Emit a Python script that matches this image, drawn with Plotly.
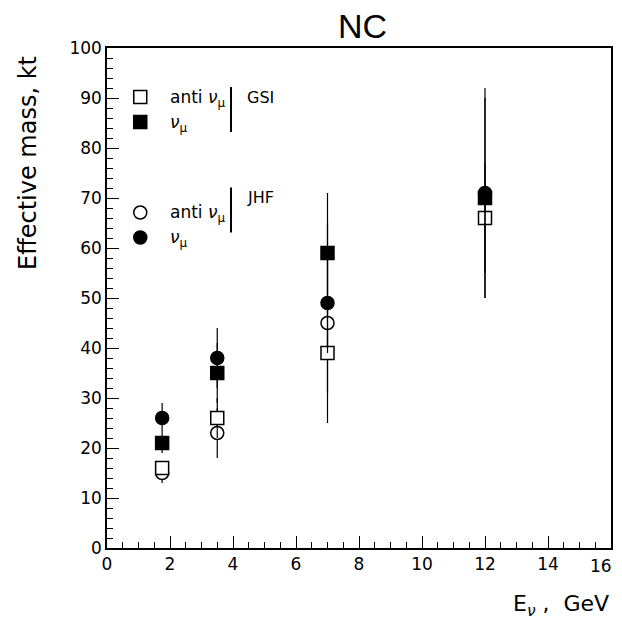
import plotly.graph_objects as go

# ---- data ----
energy = [1.75, 3.5, 7, 12]
gsi_anti = [16, 26, 39, 66]
gsi_anti_err = [1, 4, 8, 11]
gsi_nu = [21, 35, 59, 70]
gsi_nu_err = [2, 6, 12, 20]
jhf_anti_energy = [1.75, 3.5, 7]
jhf_anti = [15, 23, 45]
jhf_anti_err = [2, 5, 20]
jhf_nu = [26, 38, 49, 71]
jhf_nu_err = [3, 6, 10, 21]

x_ticks = [0, 2, 4, 6, 8, 10, 12, 14, 16]
y_ticks = [0, 10, 20, 30, 40, 50, 60, 70, 80, 90, 100]

FONT = "DejaVu Sans"
TFONT = "Liberation Sans"
MS = 13

fig = go.Figure()


def add_series(x, y, err, symbol, filled):
    fig.add_trace(go.Scatter(
        x=x, y=y, mode="markers",
        marker=dict(symbol=symbol, size=MS,
                    color="black" if filled else "white",
                    line=dict(color="black", width=1.5)),
        error_y=dict(type="data", array=err, visible=True,
                     color="black", thickness=1.2, width=0),
        showlegend=False))


add_series(jhf_anti_energy, jhf_anti, jhf_anti_err, "circle", False)
add_series(energy, gsi_anti, gsi_anti_err, "square", False)
add_series(energy, jhf_nu, jhf_nu_err, "circle", True)
add_series(energy, gsi_nu, gsi_nu_err, "square", True)

# ---- hand-drawn legend on an overlay axis (0..1 paper-like) ----
leg_x = [0.066, 0.066, 0.066, 0.066]
leg_y = [0.902, 0.852, 0.671, 0.621]
fig.add_trace(go.Scatter(
    x=leg_x, y=leg_y, mode="markers", xaxis="x2", yaxis="y2",
    marker=dict(symbol=["square", "square", "circle", "circle"], size=MS,
                color=["white", "black", "white", "black"],
                line=dict(color="black", width=1.5)),
    showlegend=False, hoverinfo="skip"))

legend_labels = ["anti <i>ν</i><sub>μ</sub>", "<i>ν</i><sub>μ</sub>",
                 "anti <i>ν</i><sub>μ</sub>", "<i>ν</i><sub>μ</sub>"]
for lx, ly, lab in zip(leg_x, leg_y, legend_labels):
    fig.add_annotation(x=lx, y=ly, xref="x2", yref="y2", text=lab,
                       showarrow=False, xanchor="left", yanchor="middle",
                       xshift=28, yshift=-1,
                       font=dict(family=FONT, size=17, color="black"))

for top, bot, ty, name in [(0.922, 0.832, 0.902, "GSI"), (0.721, 0.631, 0.701, "JHF")]:
    fig.add_shape(type="line", xref="x2", yref="y2", x0=0.246, x1=0.246,
                  y0=bot, y1=top, line=dict(color="black", width=2))
    fig.add_annotation(x=0.246, y=ty, xref="x2", yref="y2", text=name,
                       showarrow=False, xanchor="left", yanchor="middle",
                       xshift=14,
                       font=dict(family=FONT, size=16, color="black"))

axis_common = dict(showgrid=False, zeroline=False, showline=True, mirror=True,
                   linecolor="black", linewidth=1.5, ticks="inside",
                   tickcolor="black", tickwidth=1.2, ticklen=12,
                   tickfont=dict(family=FONT, size=17, color="black"))

# last x tick label is placed by hand so it is not clipped at the page edge
x_ticktext = [str(v) for v in x_ticks]
x_ticktext[-1] = ""

fig.update_layout(
    width=614, height=615,
    margin=dict(l=99, r=11, t=40, b=75),
    paper_bgcolor="white", plot_bgcolor="white",
    xaxis=dict(range=[0, 16], tickvals=x_ticks, ticktext=x_ticktext,
               minor=dict(dtick=0.5, ticks="inside", ticklen=6,
                          tickcolor="black", tickwidth=1.2),
               automargin=False, **axis_common),
    yaxis=dict(range=[0, 100], tickvals=y_ticks, ticktext=[str(v) for v in y_ticks],
               minor=dict(dtick=2, ticks="inside", ticklen=6,
                          tickcolor="black", tickwidth=1.2),
               automargin=False, **axis_common),
    xaxis2=dict(range=[0, 1], overlaying="x", visible=False, fixedrange=True),
    yaxis2=dict(range=[0, 1], overlaying="y", visible=False, fixedrange=True),
    showlegend=False,
)

fig.add_annotation(xref="x", yref="paper", x=x_ticks[-1], y=0, yshift=-18,
                   xanchor="right", yanchor="middle", xshift=3,
                   text=str(x_ticks[-1]), showarrow=False,
                   font=dict(family=FONT, size=17, color="black"))
fig.add_annotation(xref="paper", yref="paper", x=0.5, y=1, yshift=22, xshift=3,
                   text="NC", showarrow=False, xanchor="center", yanchor="middle",
                   font=dict(family=TFONT, size=34, color="black"))
fig.add_annotation(xref="paper", yref="paper", x=0, y=0.5, xshift=-79, yshift=135,
                   text="Effective mass, kt", textangle=-90, showarrow=False,
                   xanchor="center", yanchor="middle",
                   font=dict(family=FONT, size=24, color="black"))
fig.add_annotation(xref="paper", yref="paper", x=1, y=0, yshift=-57,
                   xanchor="right", yanchor="middle",
                   text="E<sub><i>ν</i></sub> ,  GeV", showarrow=False,
                   font=dict(family=FONT, size=22, color="black"))

fig.write_html("out.html")
